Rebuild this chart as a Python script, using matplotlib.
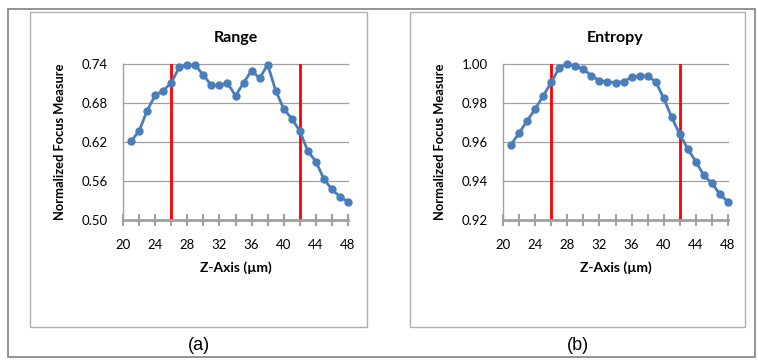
import matplotlib.pyplot as plt
from matplotlib.patches import Rectangle

z = list(range(21, 49))
range_vals = [0.621, 0.637, 0.668, 0.692, 0.699, 0.711, 0.735, 0.739, 0.738, 0.723,
              0.707, 0.707, 0.711, 0.691, 0.711, 0.730, 0.718, 0.739, 0.699, 0.671,
              0.656, 0.637, 0.606, 0.590, 0.563, 0.547, 0.536, 0.528]
entropy_vals = [0.9586, 0.9646, 0.9708, 0.9769, 0.9836, 0.9906, 0.9981, 1.000, 0.9991, 0.9973,
                0.994, 0.9915, 0.991, 0.9904, 0.991, 0.9932, 0.9938, 0.9938, 0.991, 0.9824,
                0.9726, 0.9639, 0.9564, 0.9499, 0.9429, 0.9388, 0.9333, 0.9292]
red_lines = [26, 42]
titles = ["Range", "Entropy"]
sub_labels = ["(a)", "(b)"]
range_ticks = [0.50, 0.56, 0.62, 0.68, 0.74]
entropy_ticks = [0.92, 0.94, 0.96, 0.98, 1.00]
x_ticks = [20, 24, 28, 32, 36, 40, 44, 48]

plt.rcParams['font.family'] = ['Lato', 'DejaVu Sans']

W, H = 758, 363
fig = plt.figure(figsize=(W / 100, H / 100), dpi=100)

def fx(px):
    return px / W

def fy(py):
    return 1 - py / H

# outer frame
fig.patches.append(Rectangle((fx(8), fy(357)), fx(747), 348 / H, transform=fig.transFigure,
                             fill=False, edgecolor='#808080', linewidth=1.2))

blue = '#4a7ebb'
grey = '#a0a0a0'
panels = [
    (123, 30, 367, range_vals, range_ticks, '{:.2f}'),
    (503, 410, 745, entropy_vals, entropy_ticks, '{:.2f}'),
]

for i, (left, box_l, box_r, vals, yt, fmt) in enumerate(panels):
    # panel box
    fig.patches.append(Rectangle((fx(box_l), fy(327)), fx(box_r - box_l), 315 / H,
                                 transform=fig.transFigure, fill=False,
                                 edgecolor='#b0b0b0', linewidth=1.0))
    ax = fig.add_axes([fx(left), fy(220), fx(225), 156 / H])
    ax.set_ylim(yt[0], yt[-1])
    ax.set_xlim(20, 48)
    for y in yt[1:]:
        ax.axhline(y, color=grey, linewidth=0.9, zorder=1, clip_on=False)
    for xr in red_lines:
        ax.plot([xr, xr], [yt[0], yt[-1]], color='#ff0000', linewidth=2, zorder=2)
    ax.plot(z, vals, color=blue, linewidth=2, marker='o', markersize=5, zorder=3,
            clip_on=False)
    ax.set_yticks(yt)
    ax.set_yticklabels([fmt.format(v) for v in yt], fontsize=9.5)
    ax.set_xticks(range(20, 49, 2))
    ax.set_xticklabels([str(v) if v in x_ticks else '' for v in range(20, 49, 2)], fontsize=9.5)
    ax.tick_params(axis='y', length=0, pad=11)
    ax.tick_params(axis='x', direction='inout', length=8, width=1.5, color=grey, pad=10)
    for s in ['top', 'right']:
        ax.spines[s].set_visible(False)
    ax.spines['left'].set_color(grey)
    ax.spines['left'].set_linewidth(1)
    ax.spines['bottom'].set_color(grey)
    ax.spines['bottom'].set_linewidth(2)
    ax.set_title(titles[i], fontsize=11.5, fontweight='bold', pad=16)
    ax.set_ylabel('Normalized Focus Measure', fontsize=9.3, fontweight='bold', labelpad=11)
    ax.set_xlabel('Z-Axis (µm)', fontsize=10, fontweight='bold', labelpad=7)
    fig.text(fx((box_l + box_r) / 2), fy(345), sub_labels[i], fontsize=13,
             ha='center', va='center', family='Liberation Sans')

fig.savefig('out.png', dpi=100)
